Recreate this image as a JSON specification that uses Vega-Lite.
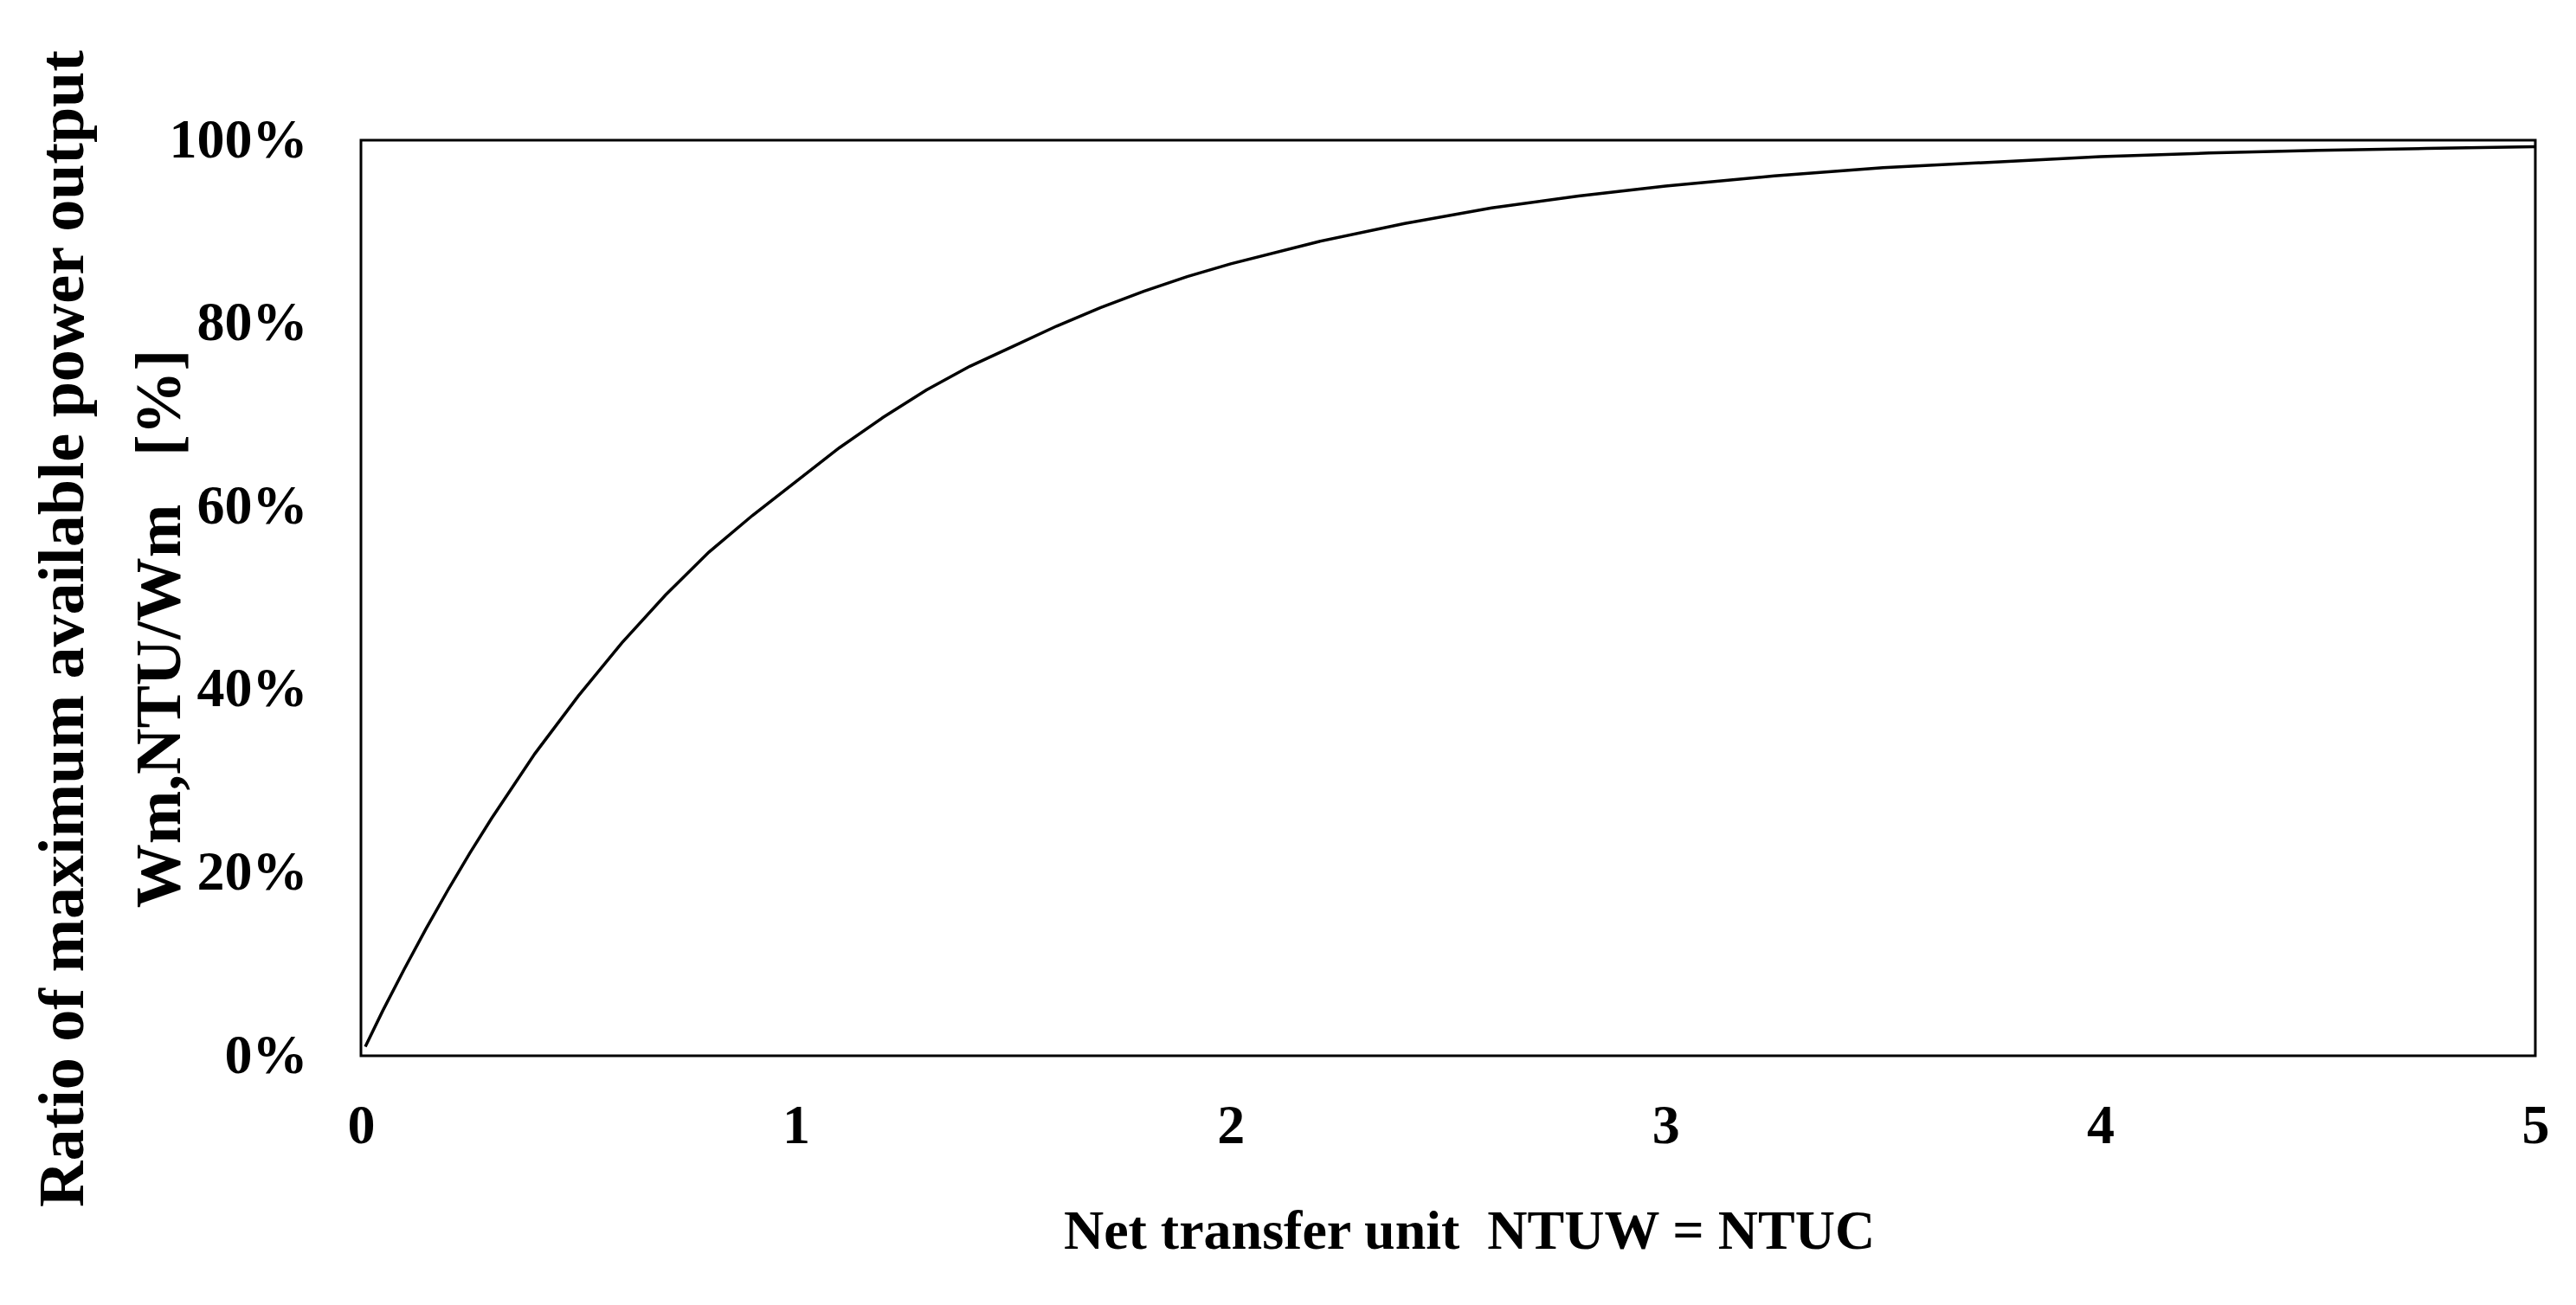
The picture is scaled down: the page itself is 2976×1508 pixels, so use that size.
{
  "$schema": "https://vega.github.io/schema/vega-lite/v6.json",
  "width": 2512,
  "height": 1058,
  "autosize": {"type": "none"},
  "padding": {"left": 417, "top": 162, "right": 47, "bottom": 288},
  "background": "white",
  "config": {
    "view": {"stroke": "black", "strokeWidth": 3},
    "font": "Liberation Serif",
    "axis": {"grid": false, "domain": false, "ticks": false}
  },
  "data": {
    "values": [
      {"ntu": 0.01, "ratio": 0.010},
      {"ntu": 0.05, "ratio": 0.049},
      {"ntu": 0.1, "ratio": 0.095},
      {"ntu": 0.15, "ratio": 0.139},
      {"ntu": 0.2, "ratio": 0.181},
      {"ntu": 0.25, "ratio": 0.221},
      {"ntu": 0.3, "ratio": 0.259},
      {"ntu": 0.4, "ratio": 0.330},
      {"ntu": 0.5, "ratio": 0.393},
      {"ntu": 0.6, "ratio": 0.451},
      {"ntu": 0.7, "ratio": 0.503},
      {"ntu": 0.8, "ratio": 0.550},
      {"ntu": 0.9, "ratio": 0.590},
      {"ntu": 1.0, "ratio": 0.627},
      {"ntu": 1.1, "ratio": 0.664},
      {"ntu": 1.2, "ratio": 0.697},
      {"ntu": 1.3, "ratio": 0.727},
      {"ntu": 1.4, "ratio": 0.753},
      {"ntu": 1.5, "ratio": 0.775},
      {"ntu": 1.6, "ratio": 0.797},
      {"ntu": 1.7, "ratio": 0.817},
      {"ntu": 1.8, "ratio": 0.835},
      {"ntu": 1.9, "ratio": 0.851},
      {"ntu": 2.0, "ratio": 0.865},
      {"ntu": 2.2, "ratio": 0.889},
      {"ntu": 2.4, "ratio": 0.909},
      {"ntu": 2.6, "ratio": 0.926},
      {"ntu": 2.8, "ratio": 0.939},
      {"ntu": 3.0, "ratio": 0.950},
      {"ntu": 3.25, "ratio": 0.961},
      {"ntu": 3.5, "ratio": 0.970},
      {"ntu": 3.75, "ratio": 0.976},
      {"ntu": 4.0, "ratio": 0.982},
      {"ntu": 4.25, "ratio": 0.986},
      {"ntu": 4.5, "ratio": 0.989},
      {"ntu": 4.75, "ratio": 0.991},
      {"ntu": 5.0, "ratio": 0.993}
    ]
  },
  "mark": {"type": "line", "color": "black", "strokeWidth": 3.5, "clip": true},
  "encoding": {
    "x": {
      "field": "ntu",
      "type": "quantitative",
      "scale": {"domain": [0, 5], "nice": false, "zero": true},
      "axis": {
        "values": [0, 1, 2, 3, 4, 5],
        "format": "d",
        "labelFont": "Liberation Serif",
        "labelFontSize": 64,
        "labelFontWeight": "bold",
        "labelColor": "black",
        "labelPadding": 49,
        "labelFlush": false,
        "title": "Net transfer unit\u00a0\u00a0NTUW = NTUC",
        "titleFont": "Liberation Serif",
        "titleFontSize": 64,
        "titleFontWeight": "bold",
        "titleColor": "black",
        "titleBaseline": "alphabetic",
        "titleX": 1280,
        "titleY": 222
      }
    },
    "y": {
      "field": "ratio",
      "type": "quantitative",
      "scale": {"domain": [0, 1], "nice": false},
      "axis": {
        "values": [0, 0.2, 0.4, 0.6, 0.8, 1.0],
        "format": ".0%",
        "labelFont": "Liberation Serif",
        "labelFontSize": 64,
        "labelFontWeight": "bold",
        "labelColor": "black",
        "labelPadding": 62,
        "labelFlush": false,
        "title": ["Ratio of maximum available power output", "Wm,NTU/Wm\u00a0\u00a0\u00a0[%]"],
        "titleFont": "Liberation Serif",
        "titleFontSize": 74,
        "titleFontWeight": "bold",
        "titleColor": "black",
        "titleLineHeight": 112,
        "titleAngle": 270,
        "titleBaseline": "bottom",
        "titleX": -306,
        "titleY": 564
      }
    }
  }
}
